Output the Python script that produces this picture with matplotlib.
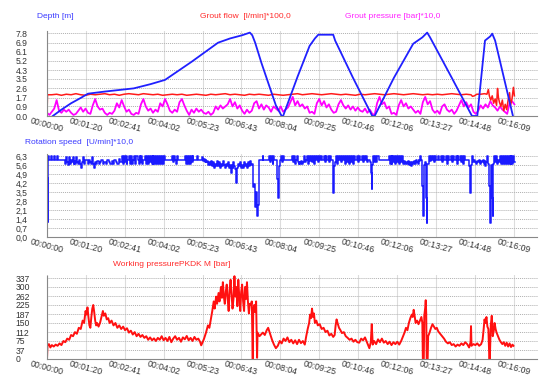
import matplotlib
matplotlib.use("Agg")
import matplotlib.pyplot as plt
import numpy as np

plt.rcParams['font.family'] = ['Liberation Sans', 'DejaVu Sans']

# time axis labels (hh:mm:ss)
time_labels = ["00:00:00", "00:01:20", "00:02:41", "00:04:02", "00:05:23", "00:06:43", "00:08:04",
               "00:09:25", "00:10:46", "00:12:06", "00:13:27", "00:14:48", "00:16:09"]

depth_ticks = [0.0, 0.9, 1.7, 2.6, 3.5, 4.3, 5.2, 6.1, 6.9, 7.8]
rot_ticks = [0.0, 0.7, 1.4, 2.1, 2.8, 3.5, 4.2, 4.9, 5.6, 6.3]
press_ticks = [0, 37, 75, 112, 150, 187, 225, 262, 300, 337]

# depth [m]  (time s, value)
depth_pts = [(12, 0.0), (30, 0.6), (50, 1.2), (70, 1.7), (85, 2.1), (120, 2.3), (150, 2.45), (180, 2.6),
             (215, 3.0), (245, 3.4), (300, 5.1), (355, 6.9), (380, 7.3), (405, 7.6), (421, 7.85),
             (426, 7.6), (432, 6.9), (445, 5.0), (460, 3.0), (475, 1.0), (487, 0.0), (490, 0.0),
             (520, 3.7), (545, 6.6), (556, 7.3), (563, 7.65), (594, 7.65), (598, 7.1), (635, 3.6),
             (675, 0.0), (680, 0.0), (720, 3.6), (760, 6.8), (779, 7.4), (789, 7.85), (795, 7.4),
             (840, 3.6), (882, 0.0), (893, 0.0), (909, 7.1), (920, 7.5), (924, 7.75), (930, 7.1),
             (967, 0.0)]

# grout flow [l/min]*100 (sampled every 10 s, then tail)
flow_start = [(0, 0.0), (1, 2.0)]
flow_times = np.arange(10, 890, 10)
flow_vals = [2.00, 2.05, 1.95, 2.05, 2.00, 2.10, 2.00, 1.95, 2.05, 2.00,
             2.05, 2.10, 2.00, 2.05, 1.95, 2.05, 2.10, 2.05, 2.00, 2.10,
             2.05, 2.00, 2.05, 1.95, 2.00, 2.05, 2.00, 2.05, 1.95, 2.00,
             2.05, 2.00, 1.95, 2.05, 2.00, 2.05, 2.10, 2.00, 2.05, 2.00,
             1.95, 2.05, 2.00, 2.05, 2.00, 1.95, 2.05, 2.00, 1.95, 2.00,
             2.05, 2.10, 2.00, 2.05, 2.10, 2.05, 2.00, 2.05, 2.10, 2.05,
             2.00, 2.05, 2.00, 1.95, 2.05, 2.00, 2.05, 2.10, 2.05, 2.00,
             2.05, 2.10, 2.05, 2.00, 2.05, 2.10, 2.05, 2.00, 2.05, 2.00,
             2.05, 2.00, 2.05, 2.10, 2.05, 2.00, 2.05, 2.00]
flow_tail = [(883, 1.85), (887, 1.9), (892, 2.05), (900, 2.05), (908, 2.1), (913, 2.05), (916, 2.5),
             (918, 1.9), (921, 1.5), (924, 1.9), (927, 1.2), (930, 1.6), (933, 1.0), (935, 2.6),
             (937, 1.7), (939, 1.3), (942, 0.9), (945, 1.5), (948, 0.5), (951, 1.1), (954, 0.6),
             (957, 1.5), (960, 2.2), (962, 1.0), (965, 1.6), (968, 2.7), (970, 1.9)]

# grout pressure [bar]*10 (every 5 s)
gp_times = np.arange(0, 975, 5)
gp_vals = [0.3, 0.1, 0.4, 0.7, 1.5, 0.5, 0.3, 0.6, 0.4, 0.6,
           0.3, 0.1, 0.2, 0.5, 0.8, 0.4, 0.7, 0.3, 0.2, 1.0,
           1.6, 0.9, 0.6, 0.7, 0.3, 0.1, 0.3, 0.2, 0.5, 1.2,
           0.8, 1.5, 0.9, 0.4, 0.6, 0.2, 0.1, 0.3, 0.2, 1.1,
           1.6, 0.9, 0.5, 0.7, 0.3, 0.6, 0.4, 1.2, 0.9, 1.6,
           1.1, 0.5, 0.3, 0.6, 0.4, 1.3, 1.6, 1.0, 0.5, 0.1,
           0.6, 0.3, 0.7, 0.4, 0.6, 0.3, 0.2, 0.4, 0.1, 0.3,
           0.9, 0.6, 1.0, 0.7, 0.9, 1.1, 1.6, 0.9, 1.3, 0.7,
           1.0, 0.5, 0.2, 0.6, 0.3, 0.5, 1.2, 1.4, 0.7, 1.1,
           0.6, 1.0, 0.8, 0.4, 0.9, 0.7, 0.5, 0.9, 0.4, 0.6,
           0.8, 1.3, 1.8, 1.0, 1.4, 0.9, 1.1, 0.7, 0.9, 0.3,
           0.4, 0.2, 1.2, 1.6, 1.0, 1.4, 0.8, 1.1, 0.6, 0.3,
           0.4, 1.1, 1.5, 1.0, 0.7, 1.0, 0.6, 0.9, 0.5, 0.8,
           0.5, 0.4, 0.7, 0.3, 0.6, 0.2, 0.1, 1.2, 1.8, 1.1,
           1.3, 0.7, 0.9, 0.2, 0.3, 0.1, 1.0, 1.5, 0.9, 1.2,
           0.7, 0.9, 0.6, 0.3, 0.5, 0.2, 1.3, 1.8, 1.1, 1.4,
           0.6, 0.3, 0.5, 0.2, 0.9, 1.1, 0.6, 0.4, 0.6, 0.2,
           0.5, 1.0, 1.5, 0.9, 1.3, 0.8, 1.1, 0.4, 0.2, 0.5,
           1.0, 0.7, 1.1, 0.8, 1.4, 1.0, 0.8, 0.5, 0.9, 0.6,
           0.4, 0.2, 1.2, 1.4, 1.1]

# rotation speed [U/min]*10  (step signal)
rot_pts = [(0, 0.0), (1, 4.6), (2, 1.2), (3, 6.3), (5, 6.0), (8, 6.3), (10, 6.0), (14, 6.3), (16, 6.0),
           (20, 6.3), (22, 6.0), (37, 5.7), (39, 6.2), (41, 5.8), (43, 5.6), (45, 6.2), (47, 5.7),
           (49, 6.0), (51, 5.8), (53, 6.2), (55, 5.7), (57, 5.9), (59, 5.7), (61, 6.2), (63, 5.8),
           (65, 5.7), (67, 6.0), (69, 5.7), (71, 5.4), (73, 5.8), (75, 6.2), (77, 5.7), (79, 6.0),
           (82, 6.0), (86, 5.7), (88, 6.0), (90, 5.8), (92, 5.7), (94, 6.2), (96, 5.7), (98, 5.4),
           (100, 5.8), (102, 5.7), (104, 5.9), (107, 5.7), (110, 5.8), (113, 6.0), (116, 5.7),
           (119, 5.8), (122, 5.7), (125, 6.0), (128, 5.8), (131, 5.7), (134, 5.9), (137, 5.7),
           (140, 6.0), (143, 5.8), (146, 5.7), (149, 6.1), (152, 5.8),
           (155, 6.3), (157, 5.7), (159, 6.3), (161, 5.8), (163, 6.3), (165, 5.7), (167, 6.0),
           (170, 6.3), (172, 5.7), (174, 6.3), (176, 5.7), (178, 6.0), (181, 6.3), (183, 5.7),
           (185, 6.3), (188, 6.0), (190, 5.7), (192, 6.3), (194, 5.8), (196, 6.3), (198, 5.7),
           (200, 6.0), (203, 6.3), (205, 5.7), (207, 6.3), (209, 5.7), (211, 6.3), (213, 5.8),
           (215, 6.3), (217, 5.7), (219, 6.3), (221, 5.7), (223, 6.3), (225, 5.7), (227, 6.3),
           (229, 5.7), (231, 6.3), (233, 5.7), (235, 6.3), (237, 5.7), (239, 6.3), (241, 5.7),
           (243, 6.3), (245, 6.0),
           (259, 6.3), (261, 5.8), (263, 6.3), (265, 6.0), (267, 5.7), (269, 6.3), (271, 6.0),
           (287, 6.3), (289, 5.7), (291, 6.3), (293, 5.7), (295, 6.3), (297, 5.7), (299, 6.3),
           (301, 5.8), (303, 6.3), (304, 6.0), (312, 6.3), (313, 6.0),
           (321, 6.2), (323, 5.9), (325, 6.1), (327, 5.8), (329, 6.0), (331, 5.8), (333, 5.9),
           (335, 5.6), (337, 5.8), (339, 5.6), (341, 5.9),
           (343, 5.5), (345, 5.8), (347, 5.4), (349, 5.7), (351, 5.5), (353, 5.9), (355, 5.5),
           (357, 5.8), (359, 5.4), (361, 5.7), (363, 5.5), (365, 5.9), (367, 5.6), (369, 5.4),
           (371, 5.7), (373, 5.5), (375, 5.8), (377, 5.4), (379, 5.6), (381, 5.0), (383, 5.6),
           (385, 5.4), (387, 5.8), (389, 5.5), (391, 5.3), (393, 4.2), (395, 5.4), (397, 5.7),
           (399, 5.5), (401, 5.8), (403, 5.4), (405, 5.6), (407, 5.4), (409, 5.8), (411, 5.5),
           (413, 5.7), (415, 5.4), (417, 5.8), (419, 5.5), (421, 5.9), (423, 5.6), (425, 5.7),
           (427, 3.9), (429, 4.1), (431, 2.3), (433, 3.5), (435, 1.6), (437, 2.5), (439, 6.0),
           (448, 6.3), (449, 6.0), (460, 6.3), (462, 5.8), (464, 6.3), (466, 6.0), (468, 5.7),
           (470, 6.3), (472, 6.0), (478, 4.5), (480, 3.0), (481, 5.5), (483, 6.0), (485, 6.3),
           (487, 5.8), (489, 6.3), (491, 6.0), (494, 6.0),
           (508, 6.3), (510, 5.8), (512, 6.3), (514, 5.7), (516, 6.0), (518, 6.3), (520, 5.8),
           (522, 5.7), (524, 5.8), (526, 5.7), (528, 5.9), (530, 5.7), (532, 5.8), (534, 6.3),
           (536, 5.8), (538, 6.0), (540, 6.3), (542, 5.7), (544, 6.3), (546, 5.9), (548, 6.3),
           (550, 5.8), (552, 6.3), (554, 5.7), (556, 6.3), (558, 6.0), (560, 6.3), (562, 5.8),
           (564, 6.3), (566, 6.0), (568, 6.3), (570, 6.0),
           (574, 6.3), (576, 5.8), (578, 6.3), (580, 6.0), (584, 6.3), (586, 5.8), (588, 6.3),
           (590, 6.0), (593, 5.3), (594, 3.4), (595, 5.5), (597, 5.8), (599, 6.3), (601, 5.7),
           (603, 6.3), (605, 6.0), (608, 6.3), (610, 5.8), (612, 6.3), (614, 6.0), (617, 6.3),
           (619, 5.7), (621, 6.3), (623, 5.8), (625, 6.3), (627, 5.7), (629, 6.3), (631, 5.8),
           (633, 6.3), (635, 5.7), (637, 6.3), (639, 6.0), (643, 6.3), (645, 5.8), (647, 6.3),
           (649, 6.0), (653, 6.3), (655, 5.8), (657, 6.3), (659, 6.0), (663, 6.3), (665, 5.8),
           (667, 6.0), (671, 5.8), (673, 5.0), (674, 3.7), (675, 5.6), (677, 6.3), (679, 5.8),
           (681, 6.3), (683, 5.8), (685, 6.3), (688, 6.0),
           (709, 6.3), (711, 5.7), (713, 6.3), (715, 5.7), (717, 6.3), (719, 5.8), (721, 6.3),
           (723, 5.7), (725, 6.3), (727, 5.8), (729, 6.3), (731, 5.7), (733, 6.3), (735, 5.8),
           (737, 6.3), (739, 5.7), (741, 5.9), (743, 5.7), (745, 5.8), (747, 5.7), (749, 5.9),
           (751, 5.6), (753, 5.8), (755, 5.5), (757, 5.8), (759, 5.7), (761, 5.9), (763, 5.7),
           (765, 6.0), (767, 5.8), (769, 5.7), (771, 6.0), (773, 5.9), (775, 6.3), (777, 6.0),
           (779, 4.0), (781, 1.6), (782, 5.6), (785, 5.8), (787, 3.0), (788, 1.1), (789, 5.7),
           (792, 6.3), (794, 5.9), (796, 6.3), (798, 6.0), (802, 6.3), (804, 5.8), (806, 6.3),
           (808, 6.0), (812, 6.3), (814, 6.0), (818, 6.3), (820, 5.8), (822, 6.3), (824, 6.0),
           (828, 6.3), (830, 5.7), (832, 6.3), (834, 6.0), (838, 6.3), (840, 5.8), (842, 6.3),
           (844, 6.0), (848, 6.3), (850, 5.7), (852, 6.3), (854, 6.0), (858, 6.3), (860, 5.8),
           (862, 6.3), (864, 5.7), (866, 6.3), (868, 6.0),
           (876, 5.5), (878, 3.4), (879, 5.6), (882, 6.3), (884, 5.8), (886, 6.0), (888, 5.8),
           (890, 5.7), (892, 5.9), (894, 5.8), (896, 6.0), (898, 5.7), (900, 5.9), (902, 5.8),
           (904, 6.0), (906, 5.7), (908, 5.9), (910, 5.5), (912, 5.8), (914, 6.3), (916, 5.7),
           (918, 4.0), (920, 1.1), (921, 5.6), (923, 3.0), (925, 1.6), (926, 5.7), (928, 6.3),
           (930, 5.8), (932, 6.3), (934, 5.7), (936, 6.0), (938, 5.8), (940, 6.3), (942, 5.7),
           (944, 6.3), (946, 5.7), (948, 6.3), (950, 5.7), (952, 6.3), (954, 5.7), (956, 6.3),
           (958, 5.7), (960, 6.3), (962, 5.7), (964, 6.3), (966, 5.7), (968, 6.3), (970, 5.8),
           (971, 5.8)]

# working pressure PKDK M [bar]
press_pts = [(0, 0), (1, 55), (4, 62), (7, 48), (10, 58), (14, 52), (18, 60), (22, 55), (26, 65),
             (30, 58), (34, 75), (38, 70), (42, 85), (46, 80), (50, 100), (54, 95), (58, 112),
             (62, 105), (66, 130), (70, 125), (74, 160), (77, 150), (80, 200), (82, 185), (84, 215),
             (86, 175), (88, 140), (90, 130), (92, 175), (94, 210), (96, 225), (98, 195), (100, 160),
             (102, 140), (104, 150), (107, 135), (110, 150), (113, 175), (116, 200), (118, 180),
             (121, 190), (124, 165), (127, 170), (130, 150), (134, 160), (138, 140), (142, 150),
             (146, 130), (150, 140), (154, 125), (158, 135), (162, 120), (166, 128), (170, 110),
             (174, 118), (178, 102), (182, 112), (186, 95), (190, 105), (194, 92), (198, 100),
             (202, 88), (206, 95), (210, 80), (214, 90), (218, 78), (222, 86), (226, 75), (230, 88),
             (234, 80), (238, 95), (242, 78), (246, 88), (250, 75), (254, 92), (258, 70), (262, 85),
             (266, 95), (270, 80), (274, 88), (278, 72), (282, 90), (286, 82), (290, 96), (294, 78),
             (298, 88), (302, 75), (306, 92), (310, 80), (314, 85), (318, 70), (320, 57), (323, 70),
             (326, 85), (330, 110), (334, 140), (337, 130), (340, 165), (343, 200), (346, 240),
             (348, 210), (351, 260), (353, 230), (356, 275), (358, 240), (361, 300), (363, 255),
             (365, 320), (367, 260), (369, 230), (371, 280), (373, 310), (375, 250), (377, 200),
             (379, 290), (381, 330), (383, 270), (385, 210), (387, 250), (389, 345), (391, 260),
             (393, 300), (395, 220), (397, 330), (399, 260), (401, 200), (403, 280), (405, 310),
             (407, 240), (409, 200), (411, 300), (413, 250), (415, 320), (417, 240), (419, 190),
             (421, 230), (423, 225), (425, 240), (427, 0), (428, 200), (430, 225), (432, 195),
             (434, 240), (436, 5), (437, 110), (441, 95), (448, 110), (452, 100), (456, 120),
             (459, 130), (463, 105), (467, 80), (471, 60), (475, 45), (479, 55), (483, 75), (487, 65),
             (491, 85), (495, 75), (499, 90), (503, 70), (507, 80), (511, 65), (515, 78), (519, 62),
             (523, 80), (527, 66), (531, 75), (535, 60), (538, 95), (541, 125), (544, 150),
             (546, 185), (548, 170), (550, 210), (552, 175), (554, 190), (556, 150), (559, 160),
             (562, 140), (566, 145), (570, 125), (574, 130), (578, 112), (582, 118), (586, 98),
             (590, 105), (594, 92), (597, 100), (599, 140), (601, 165), (603, 150), (606, 130),
             (609, 120), (612, 108), (616, 112), (620, 95), (624, 88), (628, 80), (632, 85),
             (636, 72), (640, 80), (644, 70), (648, 68), (652, 85), (656, 78), (660, 90), (663, 75),
             (666, 60), (669, 45), (672, 70), (674, 145), (676, 60), (679, 75), (683, 62), (687, 82),
             (691, 70), (695, 85), (699, 68), (703, 75), (707, 62), (711, 72), (715, 58), (719, 70),
             (723, 62), (727, 72), (731, 60), (735, 75), (738, 90), (742, 110), (745, 130),
             (748, 120), (751, 150), (754, 170), (757, 185), (759, 175), (761, 205), (763, 180),
             (765, 150), (768, 160), (771, 145), (774, 160), (777, 175), (779, 150), (780, 0),
             (782, 0), (783, 180), (785, 215), (786, 245), (787, 190), (788, 0), (790, 0), (791, 95),
             (794, 110), (797, 130), (800, 145), (803, 135), (806, 125), (809, 130), (812, 115),
             (816, 105), (820, 95), (824, 85), (828, 72), (832, 65), (836, 70), (840, 58), (844, 62),
             (848, 52), (852, 60), (856, 55), (860, 65), (864, 58), (868, 70), (872, 62), (876, 48),
             (879, 70), (880, 137), (881, 55), (885, 62), (889, 58), (893, 65), (897, 55), (901, 62),
             (904, 80), (906, 120), (908, 165), (910, 150), (912, 175), (914, 135), (916, 125),
             (918, 0), (919, 0), (921, 140), (923, 180), (924, 150), (925, 95), (927, 115),
             (929, 150), (931, 125), (933, 110), (936, 95), (939, 80), (942, 70), (945, 62),
             (948, 70), (951, 55), (954, 68), (957, 52), (960, 65), (963, 50), (966, 60), (968, 55)]


def to_sec(s):
    h, m, sec = s.split(":")
    return int(h) * 3600 + int(m) * 60 + int(sec)


tick_secs = [to_sec(s) for s in time_labels]
W, H = 550, 386
fig = plt.figure(figsize=(W / 100, H / 100), dpi=100)


def make_axes(top_px, bottom_px):
    return fig.add_axes([47 / W, 1 - bottom_px / H, (538 - 47) / W, (bottom_px - top_px) / H])


def style(ax, ticks, labels, ymax):
    ax.set_xlim(0, 1019)
    ax.set_ylim(0, ymax)
    ax.set_xticks(tick_secs)
    ax.set_xticklabels(time_labels, rotation=-15, ha="center", va="top", fontsize=6.3, color="#333333")
    ax.set_yticks(ticks)
    ax.set_yticklabels(labels, fontsize=6.2, color="#333333", ha="left")
    ax.tick_params(axis="y", length=0, pad=22.5)
    ax.tick_params(axis="x", length=0, pad=0.5)
    for sp in ["top", "right"]:
        ax.spines[sp].set_visible(False)
    for sp in ["left", "bottom"]:
        ax.spines[sp].set_linestyle((0, (1, 1)))
        ax.spines[sp].set_color("#888888")
        ax.spines[sp].set_linewidth(0.8)
    ax.grid(axis="y", linestyle=(0, (1, 1)), color="#b0b0b0", linewidth=0.7)
    ax.grid(axis="x", linestyle="-", color="#dcdcdc", linewidth=0.8)
    ax.set_axisbelow(True)


# panel 1: depth, grout flow, grout pressure
ax1 = make_axes(31, 116)
style(ax1, depth_ticks, [f"{v:.1f}" for v in depth_ticks], 8.0)
ax1.plot(gp_times, gp_vals, color="#ff00ff", lw=1.3)
ft = [p[0] for p in flow_start] + list(flow_times) + [p[0] for p in flow_tail]
fv = [p[1] for p in flow_start] + flow_vals + [p[1] for p in flow_tail]
ax1.plot(ft, fv, color="#ff1a1a", lw=1.1)
ax1.plot([p[0] for p in depth_pts], [p[1] for p in depth_pts], color="#2020ff", lw=1.3)

# panel 2: rotation speed
ax2 = make_axes(154, 237)
style(ax2, rot_ticks, [f"{v:.1f}".replace(".", ",") for v in rot_ticks], 6.46)
ax2.plot([p[0] for p in rot_pts], [p[1] for p in rot_pts], color="#1a1aff", lw=1.1,
         drawstyle="steps-post")

# panel 3: working pressure
ax3 = make_axes(275, 359)
style(ax3, press_ticks, [str(v) for v in press_ticks], 350)
ax3.plot([p[0] for p in press_pts], [p[1] for p in press_pts], color="#ff1010", lw=1.4)

# colored series titles
fig.text(37 / W, 1 - 17 / H, "Depth [m]", color="#3a3aff", fontsize=6, va="center")
fig.text(200 / W, 1 - 16 / H, "Grout flow  [l/min]*100,0", color="#ff2a2a", fontsize=6, va="center")
fig.text(345 / W, 1 - 16 / H, "Grout pressure [bar]*10,0", color="#ff22ff", fontsize=6, va="center")
fig.text(25 / W, 1 - 143 / H, "Rotation speed  [U/min]*10,0", color="#3a3aff", fontsize=6, va="center")
fig.text(113 / W, 1 - 264 / H, "Working pressurePKDK M [bar]", color="#ff2a2a", fontsize=6, va="center")

fig.savefig("out.png", dpi=100)
